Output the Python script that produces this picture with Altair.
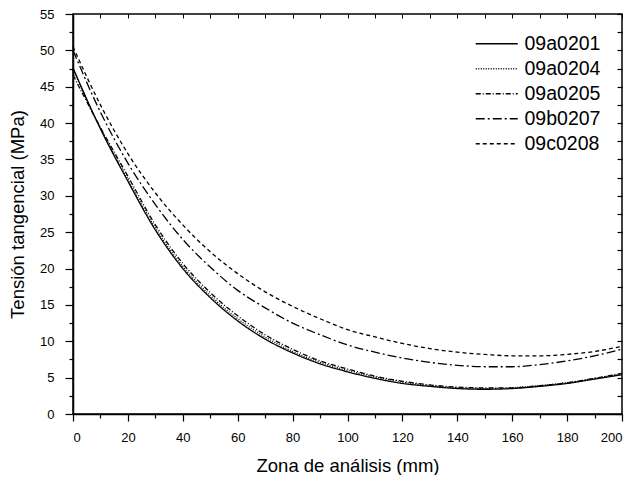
import altair as alt
import pandas as pd

x_mm = [0, 10, 20, 30, 40, 50, 60, 70, 80, 90, 100, 110, 120, 130, 140, 150, 160, 170, 180, 190, 200]

s_09a0201 = [47.6, 39.2, 32.0, 25.3, 20.0, 16.0, 12.8, 10.3, 8.4, 6.9, 5.8, 4.9, 4.2, 3.8, 3.5, 3.4, 3.5, 3.8, 4.2, 4.8, 5.4]
s_09a0204 = [47.3, 39.3, 32.3, 25.6, 20.3, 16.3, 13.1, 10.6, 8.6, 7.1, 6.0, 5.1, 4.4, 3.9, 3.6, 3.5, 3.6, 3.9, 4.3, 4.9, 5.5]
s_09a0205 = [46.6, 39.4, 32.7, 26.0, 20.7, 16.7, 13.5, 10.9, 8.9, 7.3, 6.2, 5.2, 4.5, 4.0, 3.7, 3.6, 3.6, 3.9, 4.3, 4.9, 5.6]
s_09b0207 = [50.0, 41.5, 34.5, 28.8, 24.0, 20.2, 17.0, 14.6, 12.5, 10.9, 9.5, 8.5, 7.7, 7.1, 6.7, 6.5, 6.5, 6.8, 7.3, 8.0, 8.9]
s_09c0208 = [50.5, 42.5, 35.8, 30.4, 26.0, 22.3, 19.3, 16.8, 14.8, 13.1, 11.6, 10.6, 9.7, 9.0, 8.5, 8.2, 8.0, 8.0, 8.2, 8.6, 9.3]

series_names = ["09a0201", "09a0204", "09a0205", "09b0207", "09c0208"]
series_values = [s_09a0201, s_09a0204, s_09a0205, s_09b0207, s_09c0208]
dash_patterns = [[1, 0], [1, 1.5], [5, 2, 1, 2], [9, 3, 2, 3], [4, 3]]

x_ticks = list(range(0, 201, 10))
y_ticks = [i * 2.5 for i in range(23)]

rows = []
for name, vals in zip(series_names, series_values):
    for xv, yv in zip(x_mm, vals):
        rows.append({"x": xv, "y": yv, "serie": name})
df = pd.DataFrame(rows)

FONT = "Liberation Sans"

x_scale = alt.Scale(domain=[0, 200], nice=False, zero=False)
y_scale = alt.Scale(domain=[0, 55], nice=False, zero=False)

common_axis = dict(grid=False, domainColor="black", tickColor="black", domainWidth=1.5, tickWidth=1.2,
                   labelFontSize=13, titleFontSize=18.5, labelColor="black", titleColor="black",
                   labelFont=FONT, titleFont=FONT, titleFontWeight="normal")

lines = alt.Chart(df).mark_line(interpolate="monotone", strokeWidth=1.3, color="black").encode(
    x=alt.X("x:Q", scale=x_scale, title="Zona de análisis (mm)",
            axis=alt.Axis(orient="bottom", values=x_ticks,
                          labelExpr="datum.value % 20 === 0 ? datum.label : ''",
                          tickSize={"condition": {"test": "datum.value % 20 === 0", "value": 7}, "value": 4},
                          labelPadding=10, titlePadding=12, **common_axis)),
    y=alt.Y("y:Q", scale=y_scale, title="Tensión tangencial (MPa)",
            axis=alt.Axis(orient="left", values=y_ticks,
                          labelExpr="datum.value % 5 === 0 ? datum.label : ''",
                          tickSize={"condition": {"test": "datum.value % 5 === 0", "value": 8}, "value": 4},
                          labelPadding=11, titlePadding=12, **common_axis)),
    strokeDash=alt.StrokeDash("serie:N",
                              scale=alt.Scale(domain=series_names, range=dash_patterns),
                              legend=alt.Legend(title=None, orient="none", legendX=414, legendY=20,
                                                symbolType="M-3,0H3", symbolSize=196,
                                                symbolStrokeWidth=1.3, symbolStrokeColor="black",
                                                symbolFillColor="transparent",
                                                labelFontSize=19.5, labelFont=FONT, labelColor="black",
                                                labelOffset=18, rowPadding=4)),
)

mirror = alt.Chart(df).mark_line(opacity=0).encode(
    x=alt.X("x:Q", scale=x_scale,
            axis=alt.Axis(orient="top", offset=-4, values=x_ticks, labels=False, domain=False,
                          title=None, tickSize=4, tickColor="black", tickWidth=1.0, grid=False)),
    y=alt.Y("y:Q", scale=y_scale, title=None,
            axis=alt.Axis(orient="right", offset=-5, values=y_ticks, labels=False, domain=False,
                          tickSize=5, tickColor="black", tickWidth=1.2, grid=False)),
    detail="serie:N",
)

chart = alt.layer(lines, mirror).resolve_axis(x="independent", y="independent").properties(
    width=549, height=400,
    padding={"left": 0, "top": 0, "right": 0, "bottom": 0},
    background="white",
).configure_view(stroke="black", strokeWidth=1.5)

chart.save("out.html", embed_options={"renderer": "svg", "actions": False})
